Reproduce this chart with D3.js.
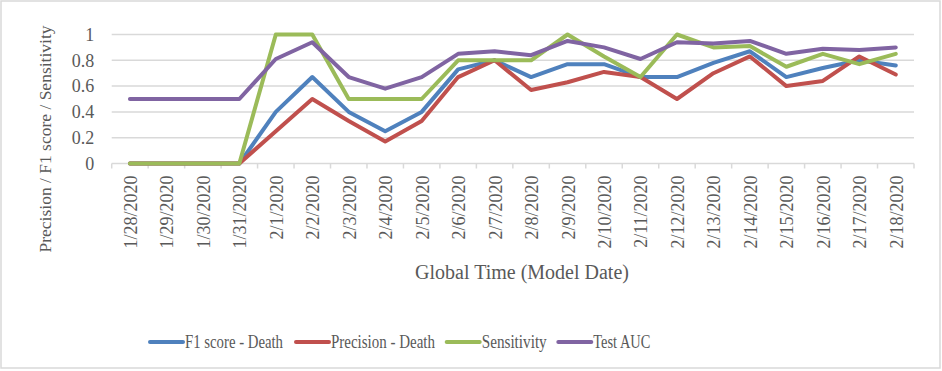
<!DOCTYPE html>
<html>
<head>
<meta charset="utf-8">
<script src="https://cdn.jsdelivr.net/npm/d3@7"></script>
<style>
  body { margin: 0; background: #fff; }
  text { font-family: "Liberation Serif", serif; fill: #595959; }
</style>
</head>
<body>
<script>
// dates on the x axis
var dates = ["1/28/2020","1/29/2020","1/30/2020","1/31/2020","2/1/2020","2/2/2020","2/3/2020",
             "2/4/2020","2/5/2020","2/6/2020","2/7/2020","2/8/2020","2/9/2020","2/10/2020",
             "2/11/2020","2/12/2020","2/13/2020","2/14/2020","2/15/2020","2/16/2020","2/17/2020","2/18/2020"];

var f1Death        = [0,0,0,0,0.4,0.67,0.4,0.25,0.4,0.73,0.8,0.67,0.77,0.77,0.67,0.67,0.78,0.87,0.67,0.74,0.8,0.76];
var precisionDeath = [0,0,0,0,0.25,0.5,0.33,0.17,0.33,0.67,0.8,0.57,0.63,0.71,0.67,0.5,0.7,0.83,0.6,0.64,0.83,0.69];
var sensitivity    = [0,0,0,0,1,1,0.5,0.5,0.5,0.8,0.8,0.8,1,0.83,0.67,1,0.9,0.91,0.75,0.85,0.77,0.85];
var testAUC        = [0.5,0.5,0.5,0.5,0.81,0.94,0.67,0.58,0.67,0.85,0.87,0.84,0.95,0.9,0.81,0.94,0.93,0.95,0.85,0.89,0.88,0.9];

var yTicks = [0,0.2,0.4,0.6,0.8,1];

var series = [
  {name:"F1 score - Death", values:f1Death, color:"#4f81bd"},
  {name:"Precision - Death", values:precisionDeath, color:"#c0504d"},
  {name:"Sensitivity", values:sensitivity, color:"#9bbb59"},
  {name:"Test AUC", values:testAUC, color:"#8064a2"}
];

var w = 942, h = 371;
var pLeft = 111.7, pRight = 914, pTop = 34.5, pBottom = 163.5;

var svg = d3.select("body").append("svg")
    .attr("width", w)
    .attr("height", h);

// chart border
svg.append("rect")
    .attr("x", 1).attr("y", 1)
    .attr("width", 939).attr("height", 367)
    .attr("fill", "#fff")
    .attr("stroke", "#d9d9d9")
    .attr("stroke-width", 1.5);

var x = d3.scaleBand().domain(dates).range([pLeft, pRight]);
var y = d3.scaleLinear().domain([0, 1]).range([pBottom, pTop]);

// gridlines
svg.selectAll("line.grid")
    .data(yTicks.filter(function(d){ return d > 0; }))
    .enter()
    .append("line")
    .attr("class", "grid")
    .attr("x1", pLeft).attr("x2", pRight)
    .attr("y1", function(d){ return y(d); })
    .attr("y2", function(d){ return y(d); })
    .attr("stroke", "#d9d9d9")
    .attr("stroke-width", 1.5);

// y axis labels
var yAxis = d3.axisLeft(y).tickValues(yTicks).tickSize(0).tickPadding(0)
    .tickFormat(function(d){ return d3.format("")(d); });
var gy = svg.append("g").attr("transform", "translate(" + (pLeft - 17.5) + ",0)").call(yAxis);
gy.select(".domain").remove();
gy.selectAll("text")
    .attr("font-family", "Liberation Serif")
    .attr("font-size", "18px")
    .attr("fill", "#595959");

// x axis
var xAxis = d3.axisBottom(x).tickSize(0).tickPadding(0);
var gx = svg.append("g").attr("transform", "translate(0," + pBottom + ")").call(xAxis);
gx.select(".domain").attr("stroke", "#d9d9d9").attr("stroke-width", 1.5).attr("d", "M" + pLeft + ",0H" + pRight);
gx.selectAll("text")
    .attr("font-family", "Liberation Serif")
    .attr("font-size", "18px")
    .attr("fill", "#595959")
    .attr("text-anchor", "end")
    .attr("dy", null)
    .attr("y", 0)
    .attr("transform", "translate(7,12) rotate(-90)");

// x tick marks between categories
var bounds = dates.map(function(d){ return x(d); }).concat([pRight]);
svg.selectAll("line.xtick")
    .data(bounds)
    .enter()
    .append("line")
    .attr("class", "xtick")
    .attr("x1", function(d){ return d; })
    .attr("x2", function(d){ return d; })
    .attr("y1", pBottom)
    .attr("y2", pBottom + 5)
    .attr("stroke", "#d9d9d9")
    .attr("stroke-width", 1.5);

// lines
var line = d3.line()
    .x(function(d, i){ return x(dates[i]) + x.bandwidth() / 2; })
    .y(function(d){ return y(d); });

svg.selectAll("path.series")
    .data(series)
    .enter()
    .append("path")
    .attr("class", "series")
    .attr("d", function(d){ return line(d.values); })
    .attr("fill", "none")
    .attr("stroke", function(d){ return d.color; })
    .attr("stroke-width", 4)
    .attr("stroke-linejoin", "round")
    .attr("stroke-linecap", "round");

// axis titles
svg.append("text")
    .text("Global Time (Model Date)")
    .attr("x", 522)
    .attr("y", 279)
    .attr("text-anchor", "middle")
    .attr("font-size", "20px");

svg.append("text")
    .text("Precision / F1 score / Sensitivity")
    .attr("transform", "translate(51,139) rotate(-90)")
    .attr("text-anchor", "middle")
    .attr("font-size", "17.5px");

// legend (text in the reference is narrow, so squeeze it)
var legendX = [150, 296, 446.7, 558.3];
var legendTextW = [98, 104, 65, 57];
var leg = svg.selectAll("g.legend")
    .data(series)
    .enter()
    .append("g")
    .attr("class", "legend")
    .attr("transform", function(d, i){ return "translate(" + legendX[i] + ",342)"; });

leg.append("line")
    .attr("x1", 0).attr("x2", 33)
    .attr("y1", 0).attr("y2", 0)
    .attr("stroke", function(d){ return d.color; })
    .attr("stroke-width", 4)
    .attr("stroke-linecap", "round");

leg.append("text")
    .text(function(d){ return d.name; })
    .attr("x", 35)
    .attr("y", 6)
    .attr("font-size", "18px")
    .attr("textLength", function(d, i){ return legendTextW[i]; })
    .attr("lengthAdjust", "spacingAndGlyphs");
</script>
</body>
</html>
